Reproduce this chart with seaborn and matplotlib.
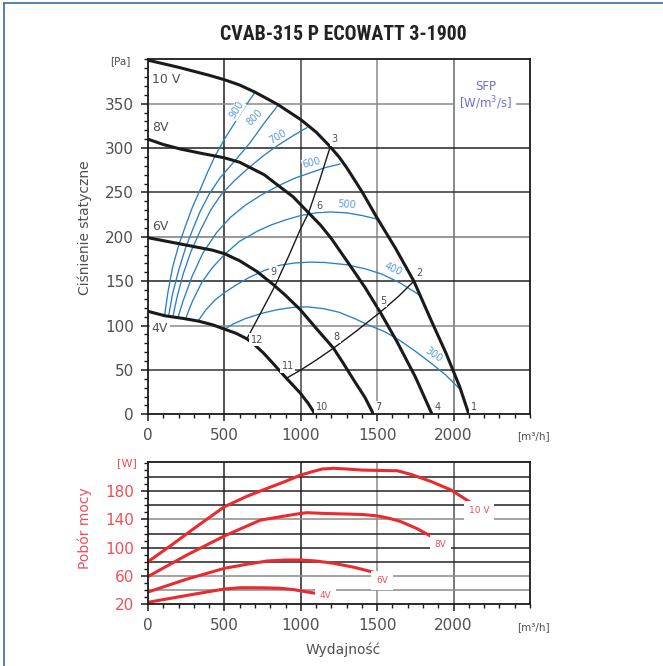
import matplotlib
matplotlib.use("Agg")
import matplotlib.pyplot as plt
import seaborn as sns
import pandas as pd
from matplotlib.lines import Line2D
from matplotlib.ticker import MultipleLocator, FixedLocator
from matplotlib import font_manager

# ---------------- data ----------------
fan_10v_x = [0, 200, 400, 500, 600, 700, 850, 1000, 1100, 1190, 1250, 1300, 1400, 1500, 1620, 1740, 1850, 1950, 2040, 2100]
fan_10v_y = [399, 391, 382, 377, 371, 363, 349, 332, 318, 302, 290, 278, 251, 221, 187, 150, 107, 69, 31, 0]
fan_8v_x = [0, 100, 210, 350, 500, 600, 668, 760, 843, 950, 1051, 1130, 1200, 1313, 1420, 1520, 1629, 1750, 1859]
fan_8v_y = [310, 304, 299, 294, 289, 284, 278, 270, 259, 245, 227, 213, 198, 170, 143, 115, 82, 42, 0]
fan_6v_x = [0, 150, 300, 420, 500, 600, 712, 821, 900, 996, 1100, 1214, 1280, 1345, 1420, 1476]
fan_6v_y = [199, 194, 189, 185, 181, 173, 161, 146, 134, 118, 97, 74.5, 57, 39, 19, 0]
fan_4v_x = [0, 111, 231, 330, 420, 500, 580, 647, 700, 756, 820, 896, 996, 1050, 1094]
fan_4v_y = [116, 111, 108, 105, 101, 96, 91, 85, 78, 69, 57, 42.5, 24, 12, 0]
fan_labels = ["10 V", "8V", "6V", "4V"]
fan_label_y = [377, 323, 212, 97]

sys_a_x = [647, 740, 832, 920, 996, 1051, 1120, 1190]
sys_a_y = [85, 115, 145, 178, 208, 227, 262, 300]
sys_b_x = [910, 1000, 1100, 1214, 1350, 1520, 1640, 1740]
sys_b_y = [41, 50, 61, 74.5, 92, 115, 133, 150]

point_names = ["1", "2", "3", "4", "5", "6", "7", "8", "9", "10", "11", "12"]
point_x = [2132, 1776, 1221, 1896, 1537, 1121, 1509, 1232, 820, 1138, 915, 712]
point_y = [8, 159, 310, 8, 128, 235, 8, 87, 160, 8, 54, 84]

sfp_900_x = [109, 130, 160, 200, 245, 290, 341, 393, 439, 500, 581, 640, 701]
sfp_900_y = [112, 137, 165, 190, 212, 233, 253, 274, 291, 310, 332, 348, 363]
sfp_800_x = [135, 160, 200, 245, 292, 340, 400, 470, 540, 600, 668, 760, 854]
sfp_800_y = [111, 135, 162, 187, 208, 228, 248, 266, 280, 292, 306, 328, 349]
sfp_700_x = [163, 190, 230, 280, 345, 410, 480, 570, 668, 760, 850, 950, 1040]
sfp_700_y = [110, 132, 158, 183, 208, 230, 248, 264, 279, 292, 303, 314, 323]
sfp_600_x = [196, 230, 290, 360, 450, 540, 640, 740, 860, 960, 1060, 1160, 1258]
sfp_600_y = [109, 128, 156, 182, 205, 222, 236, 247, 258, 266, 272, 278, 282]
sfp_500_x = [244, 290, 350, 420, 500, 600, 712, 800, 900, 1000, 1100, 1193, 1300, 1400, 1498]
sfp_500_y = [107, 127, 148, 165, 180, 195, 206, 213, 219, 224, 227, 228, 227, 224, 220]
sfp_400_x = [327, 380, 440, 500, 580, 660, 760, 865, 960, 1060, 1160, 1301, 1420, 1530, 1650, 1780]
sfp_400_y = [105, 118, 129, 137, 146, 154, 162, 168, 170.5, 171.5, 171, 168.5, 164, 158, 148, 134]
sfp_300_x = [502, 560, 640, 750, 850, 950, 1050, 1150, 1250, 1350, 1450, 1550, 1650, 1750, 1850, 1950, 2044]
sfp_300_y = [96, 102, 108, 114, 118, 120.5, 121, 119, 115, 108, 100, 93, 83, 71, 58, 44, 28]
sfp_names = ["900", "800", "700", "600", "500", "400", "300"]
sfp_label_x = [581, 701, 852, 1072, 1301, 1607, 1869]
sfp_label_y = [343, 334, 313, 283, 236, 163, 67]
sfp_label_rot = [58, 45, 30, 14, -4, -25, -35]

pw_10v_x = [0, 150, 300, 500, 650, 780, 900, 1000, 1080, 1140, 1216, 1300, 1400, 1500, 1632, 1719, 1850, 1981, 2112]
pw_10v_y = [80, 103, 127, 158, 173, 184, 194, 203, 208, 211.5, 212.5, 211.5, 210, 209.5, 209, 204, 194, 182, 164]
pw_8v_x = [0, 250, 500, 620, 736, 900, 1000, 1042, 1150, 1282, 1400, 1500, 1580, 1653, 1760, 1861]
pw_8v_y = [59, 89, 116.5, 128, 139, 145, 148.5, 149.5, 148.5, 147.7, 147, 145, 141.5, 137, 127, 115]
pw_6v_x = [0, 250, 500, 650, 780, 900, 1000, 1100, 1216, 1350, 1478]
pw_6v_y = [37, 55, 70.6, 76.5, 81, 82.4, 82.4, 81, 77.7, 72, 65]
pw_4v_x = [0, 250, 500, 605, 750, 867, 950, 1030, 1096]
pw_4v_y = [22.4, 32, 41.3, 43.1, 43, 42.3, 40.5, 37.5, 35.2]
pw_labels = ["10 V", "8V", "6V", "4V"]
pw_label_x = [2166, 1915, 1533, 1162]
pw_label_y = [153, 104, 53, 32]

x_ticks = [0, 500, 1000, 1500, 2000]
p_ticks = [0, 50, 100, 150, 200, 250, 300, 350]
w_ticks = [20, 60, 100, 140, 180]

# ---------------- style ----------------
sns.set_theme(style="ticks")
plt.rcParams["font.family"] = ["DejaVu Sans"]
GRAY_TXT = "#505050"
BLUE = "#2a7fc4"
RED = "#ea2a2f"
RED_TXT = "#ef4f5a"
SFP_TXT = "#6b6fcf"

# narrow font for the title if available
names = {f.name for f in font_manager.fontManager.ttflist}
title_family = "DejaVu Sans"
for cand in ["Liberation Sans Narrow", "DejaVu Sans Condensed", "Roboto Condensed", "Roboto"]:
    if cand in names:
        title_family = cand
        break

W, H = 663, 666
fig = plt.figure(figsize=(W / 100, H / 100), dpi=100)
fig.patch.set_facecolor("white")


def px_axes(l, t, r, b):
    return fig.add_axes([l / W, 1 - b / H, (r - l) / W, (b - t) / H])


ax1 = px_axes(148, 59.3, 530, 414.3)
ax2 = px_axes(148, 462.3, 530, 604)

for ax in (ax1, ax2):
    ax.set_facecolor("white")
    for s in ax.spines.values():
        s.set_color("#1a1a1a")
        s.set_linewidth(1.3)
        s.set_zorder(6)
    ax.set_xlim(0, 2500)
    ax.xaxis.set_major_locator(FixedLocator(x_ticks))
    ax.xaxis.set_minor_locator(MultipleLocator(100))
    ax.tick_params(which="major", direction="out", length=5, width=1.1, color="#1a1a1a",
                   labelsize=11, pad=5)
    ax.tick_params(which="minor", direction="out", length=3, width=1.0, color="#1a1a1a")
    ax.tick_params(axis="x", labelcolor=GRAY_TXT)

# ---------------- top chart ----------------
ax1.set_ylim(0, 400)
ax1.yaxis.set_major_locator(FixedLocator(p_ticks))
ax1.yaxis.set_minor_locator(MultipleLocator(10))
ax1.tick_params(axis="y", labelcolor=GRAY_TXT)

vcols1 = {500: "#222222", 1000: "#444444", 1500: "#8a8a8a", 2000: "#6a6a6a"}
for xv, c in vcols1.items():
    ax1.axvline(xv, color=c, lw=1.1, zorder=0.5)
hcols1 = {50: "#333333", 100: "#8a8a8a", 150: "#222222", 200: "#7a7a7a",
          250: "#333333", 300: "#222222", 350: "#8a8a8a"}
for yv, c in hcols1.items():
    ax1.axhline(yv, color=c, lw=1.1, zorder=0.5)

sfp_curves = [(sfp_900_x, sfp_900_y), (sfp_800_x, sfp_800_y), (sfp_700_x, sfp_700_y),
              (sfp_600_x, sfp_600_y), (sfp_500_x, sfp_500_y), (sfp_400_x, sfp_400_y),
              (sfp_300_x, sfp_300_y)]
for xs, ys in sfp_curves:
    sns.lineplot(x=xs, y=ys, ax=ax1, color=BLUE, lw=0.95, sort=False, estimator=None, zorder=2)

for xs, ys in [(sys_a_x, sys_a_y), (sys_b_x, sys_b_y)]:
    sns.lineplot(x=xs, y=ys, ax=ax1, color="#1a1a1a", lw=1.0, sort=False, estimator=None, zorder=2.5)

fans = [(fan_10v_x, fan_10v_y), (fan_8v_x, fan_8v_y), (fan_6v_x, fan_6v_y), (fan_4v_x, fan_4v_y)]
for xs, ys in fans:
    sns.lineplot(x=xs, y=ys, ax=ax1, color="#1a1a1a", lw=2.2, sort=False, estimator=None, zorder=3)

wb = dict(facecolor="white", edgecolor="none", pad=1.0)
for lab, yv in zip(fan_labels, fan_label_y):
    ax1.text(25, yv, lab, fontsize=9, color=GRAY_TXT, ha="left", va="center", bbox=wb, zorder=5)

for lab, xv, yv in zip(point_names, point_x, point_y):
    ax1.text(xv, yv, lab, fontsize=7, color=GRAY_TXT, ha="center", va="center", bbox=wb, zorder=5)

for lab, xv, yv, r in zip(sfp_names, sfp_label_x, sfp_label_y, sfp_label_rot):
    ax1.text(xv, yv, lab, fontsize=7, color="#5b9bd8", ha="center", va="center", rotation=r,
             rotation_mode="anchor", bbox=dict(facecolor="white", edgecolor="none", pad=0.5), zorder=5)

ax1.text(2208, 359, "SFP\n[W/m$^3$/s]", fontsize=8.5, color=SFP_TXT, ha="center", va="center",
         linespacing=1.1, bbox=dict(facecolor="white", edgecolor="none", pad=3), zorder=5)

ax1.text(-0.073, 0.995, "[Pa]", transform=ax1.transAxes, fontsize=7.5, color=GRAY_TXT,
         ha="center", va="center")
ax1.text(1.008, -0.061, "[m³/h]", transform=ax1.transAxes, fontsize=7.5, color=GRAY_TXT,
         ha="center", va="center")
ax1.text(-0.165, 0.525, "Ciśnienie statyczne", transform=ax1.transAxes, fontsize=10,
         color=GRAY_TXT, ha="center", va="center", rotation=90)
ax1.set_xlabel("")
ax1.set_ylabel("")

# ---------------- bottom chart ----------------
ax2.set_ylim(20, 221)
ax2.yaxis.set_major_locator(FixedLocator(w_ticks))
ax2.yaxis.set_minor_locator(MultipleLocator(10))
ax2.tick_params(axis="y", labelcolor=RED_TXT)

vcols2 = {500: "#222222", 1000: "#222222", 1500: "#8a8a8a", 2000: "#555555"}
for xv, c in vcols2.items():
    ax2.axvline(xv, color=c, lw=1.1, zorder=0.5)
hcols2 = {40: "#8a8a8a", 60: "#8a8a8a", 80: "#222222", 100: "#222222", 120: "#222222",
          140: "#8a8a8a", 160: "#222222", 180: "#222222", 200: "#222222"}
for yv, c in hcols2.items():
    ax2.axhline(yv, color=c, lw=1.1, zorder=0.5)

pws = [(pw_10v_x, pw_10v_y), (pw_8v_x, pw_8v_y), (pw_6v_x, pw_6v_y), (pw_4v_x, pw_4v_y)]
for xs, ys in pws:
    sns.lineplot(x=xs, y=ys, ax=ax2, color=RED, lw=2.2, sort=False, estimator=None, zorder=3)

for lab, xv, yv in zip(pw_labels, pw_label_x, pw_label_y):
    ax2.text(xv, yv, lab, fontsize=6.5, color=RED_TXT, ha="center", va="center",
             bbox=dict(facecolor="white", edgecolor="none", pad=3.5), zorder=5)

ax2.text(-0.055, 0.995, "[W]", transform=ax2.transAxes, fontsize=8, color=RED_TXT,
         ha="center", va="center")
ax2.text(1.008, -0.162, "[m³/h]", transform=ax2.transAxes, fontsize=7.5, color=GRAY_TXT,
         ha="center", va="center")
ax2.text(-0.165, 0.536, "Pobór mocy", transform=ax2.transAxes, fontsize=10,
         color=RED_TXT, ha="center", va="center", rotation=90)
ax2.text(0.51, -0.325, "Wydajność", transform=ax2.transAxes, fontsize=10,
         color=GRAY_TXT, ha="center", va="center")
ax2.set_xlabel("")
ax2.set_ylabel("")

# ---------------- title and frame ----------------
fig.text(343 / W, 1 - 35 / H, "CVAB-315 P ECOWATT 3-1900", fontsize=14.3, fontweight="bold",
         color="#222222", ha="center", va="center", family=title_family, fontstretch="condensed")
fig.add_artist(Line2D([4 / W, 4 / W], [0, 1 - 3 / H], transform=fig.transFigure,
                      color="#3d6a99", lw=1.2))
fig.add_artist(Line2D([4 / W, 1], [1 - 3 / H, 1 - 3 / H], transform=fig.transFigure,
                      color="#3d6a99", lw=1.2))

fig.savefig("out.png", dpi=100, facecolor="white")
